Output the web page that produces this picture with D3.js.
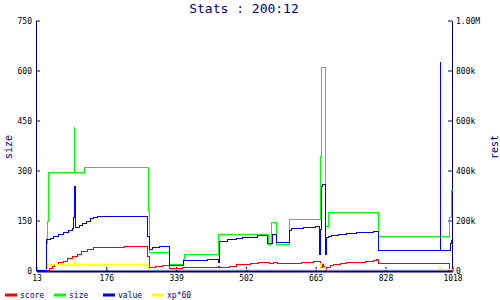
<!DOCTYPE html>
<html>
<head>
<meta charset="utf-8">
<script src="https://cdn.jsdelivr.net/npm/d3@7"></script>
<style>
  body { margin: 0; background: #fff; }
  svg { display: block; font-family: "DejaVu Sans Mono", monospace; }
</style>
</head>
<body>
<svg id="chart" width="500" height="300"></svg>
<script>
const navy = "#000080";

// x ticks (turns)
const xTicks = [13, 176, 339, 502, 665, 828, 1018];
const leftTicks = [0, 150, 300, 450, 600, 750];
const rightTicks = [0, 200, 400, 600, 800, 1000]; // thousands

// size (left axis)
const sizeX = [13, 36, 38, 40, 101, 102, 126, 274, 276, 324, 356, 358, 438, 554, 561, 573, 604, 677, 679, 689, 694, 812, 1009, 1014, 1018];
const sizeY = [0, 81, 147, 294, 432, 294, 309, 180, 54, 18, 33, 48, 108, 78, 144, 78, 153, 342, 609, 132, 174, 102, 159, 240, 240];

// score, value, xp*60 (right axis, thousands)
const scoreX = [13, 44, 50, 56, 65, 75, 86, 96, 108, 119, 131, 145, 219, 273, 277, 292, 308, 323, 355, 401, 438, 440, 463, 479, 513, 532, 556, 567, 575, 606, 633, 660, 676, 680, 684, 688, 691, 699, 707, 722, 738, 761, 781, 800, 808, 812, 1010, 1018];
const scoreY = [0, 7, 16, 24, 31, 37, 47, 55, 64, 75, 84, 92, 96, 57, 11, 15, 20, 7, 11, 11, 15, 11, 17, 24, 28, 32, 27, 31, 27, 29, 32, 36, 13, 24, 17, 0, 13, 20, 24, 27, 31, 33, 37, 40, 44, 27, 0, 0];

const valueX = [13, 37, 46, 53, 64, 76, 88, 98, 100, 101.5, 103, 113, 121, 129, 138, 146, 155, 219, 273, 277, 285, 300, 323, 356, 413, 438, 440, 459, 479, 493, 528, 553, 563, 574, 604, 608, 637, 664, 674, 677, 678, 682, 689, 691, 695, 703, 719, 738, 761, 785, 800, 812, 984, 984.5, 1012, 1016, 1018];
const valueY = [0, 124, 130, 137, 144, 153, 160, 168, 212, 336, 174, 182, 188, 197, 207, 211, 215, 217, 137, 84, 91, 95, 20, 40, 44, 31, 117, 123, 128, 133, 141, 108, 144, 111, 160, 167, 171, 175, 64, 164, 336, 344, 64, 131, 137, 141, 144, 148, 151, 153, 155, 81, 836, 81, 108, 120, 120];

const xpX = [13, 39, 101, 102, 274, 677, 689, 982, 985, 1018];
const xpY = [3, 24, 49, 24, 4, 27, 4, 12, 4, 4];

const legendNames = ["score", "size", "value", "xp*60"];
const legendColors = ["#ff0000", "#00ff00", "#0000ff", "#ffff00"];

const svg = d3.select("#chart");

const x = d3.scaleLinear().domain([13, 828, 1018]).range([36.5, 385.5, 452.5]);
const yL = d3.scaleLinear().domain([0, 750]).range([270.5, 20.5]);
const yR = d3.scaleLinear().domain([0, 1000]).range([270.5, 20.5]);

// title
svg.append("text")
  .attr("x", 244).attr("y", 13)
  .attr("text-anchor", "middle")
  .attr("fill", navy)
  .style("font-size", "13px")
  .text("Stats : 200:12");

// axes
function styleAxis(g) {
  g.select(".domain").attr("stroke", navy);
  g.selectAll(".tick line").attr("stroke", navy);
  g.selectAll(".tick text").attr("fill", "#000").style("font-size", "8px").style("font-family", "DejaVu Sans Mono");
}

svg.append("g")
  .attr("transform", "translate(36,0)")
  .call(d3.axisLeft(yL).tickValues(leftTicks).tickSizeInner(-4).tickSizeOuter(0).tickPadding(4))
  .call(styleAxis);

svg.append("g")
  .attr("transform", "translate(452,0)")
  .call(d3.axisRight(yR).tickValues(rightTicks).tickSizeInner(-4).tickSizeOuter(0).tickPadding(4)
    .tickFormat(d => d === 0 ? "0" : d >= 1000 ? (d / 1000).toFixed(2) + "M" : d + "k"))
  .call(styleAxis);

svg.append("g")
  .attr("transform", "translate(0,271)")
  .call(d3.axisBottom(x).tickValues(xTicks).tickSizeInner(-4).tickSizeOuter(0).tickPadding(4)
    .tickFormat(d3.format("d")))
  .call(styleAxis)
  .call(g => g.select(".domain").attr("stroke-width", 2));

// axis titles
svg.append("text")
  .attr("transform", "translate(12,147) rotate(-90)")
  .attr("text-anchor", "middle")
  .attr("fill", navy)
  .style("font-size", "10px")
  .text("size");

svg.append("text")
  .attr("transform", "translate(498,147) rotate(-90)")
  .attr("text-anchor", "middle")
  .attr("fill", navy)
  .style("font-size", "10px")
  .text("rest");

// series
const series = [
  { xs: scoreX, ys: scoreY, y: yR, color: legendColors[0] },
  { xs: sizeX, ys: sizeY, y: yL, color: legendColors[1] },
  { xs: valueX, ys: valueY, y: yR, color: legendColors[2] },
  { xs: xpX, ys: xpY, y: yR, color: legendColors[3] }
];

series.forEach(s => {
  const line = d3.line()
    .x(d => Math.floor(x(d[0])) + 0.5)
    .y(d => Math.floor(s.y(d[1])) + 0.5)
    .curve(d3.curveStepAfter);
  svg.append("path")
    .datum(d3.zip(s.xs, s.ys))
    .attr("d", line)
    .attr("fill", "none")
    .attr("stroke", s.color)
    .attr("stroke-width", 1)
    .attr("shape-rendering", "crispEdges");
});

// legend
const legend = svg.append("g").selectAll("g")
  .data(legendNames)
  .enter().append("g")
  .attr("transform", (d, i) => `translate(${5 + i * 49},295)`);

legend.append("line")
  .attr("x1", 0).attr("x2", 12)
  .attr("stroke", (d, i) => legendColors[i])
  .attr("stroke-width", 3);

legend.append("text")
  .attr("x", 15).attr("y", 3)
  .attr("fill", navy)
  .style("font-size", "8px")
  .text(d => d);
</script>
</body>
</html>
